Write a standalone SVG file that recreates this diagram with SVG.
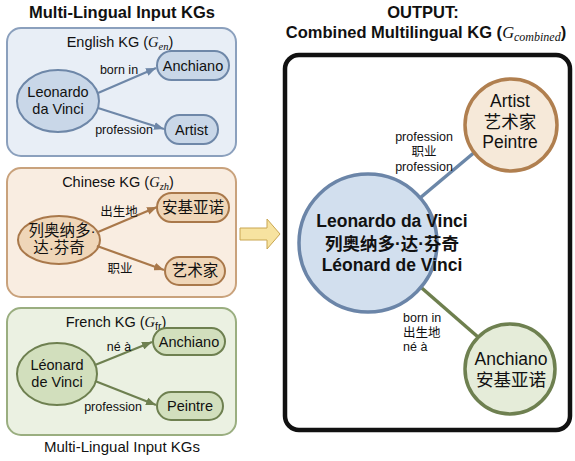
<svg xmlns="http://www.w3.org/2000/svg" width="575" height="461" viewBox="0 0 575 461">
<style>
text{font-family:"Liberation Sans",Arial,"Noto Sans CJK SC",sans-serif;fill:#111}
.t{font-size:16.5px;font-weight:bold;text-anchor:middle}
.h{font-size:14.5px;text-anchor:middle}
.m{font-family:"Liberation Serif","Noto Sans CJK SC",serif;font-style:italic}
.n{font-size:14.5px;text-anchor:middle}
.z{font-size:15.5px;text-anchor:middle}
.e{font-size:12.5px;text-anchor:middle}
.r{font-size:12.5px}
.big{font-size:17.5px;font-weight:bold;text-anchor:middle}
.c{font-size:17.5px;text-anchor:middle}
.enb{fill:#e8eef6;stroke:#8ba0bd;stroke-width:2}
.zhb{fill:#f9ede1;stroke:#c9a27c;stroke-width:2}
.frb{fill:#ebf1e2;stroke:#9aae80;stroke-width:2}
.enn{fill:#c9d7e8;stroke:#6e87a8;stroke-width:2}
.zhn{fill:#efd6b8;stroke:#a9784a;stroke-width:2}
.frn{fill:#d2dfbd;stroke:#6e8050;stroke-width:2}
.enl{stroke:#6e87a8;stroke-width:2.2;fill:none}
.zhl{stroke:#a9784a;stroke-width:2.2;fill:none}
.frl{stroke:#6e8050;stroke-width:2.2;fill:none}
</style>
<defs>
<marker id="ae" viewBox="0 0 10 8" refX="10" refY="4" markerWidth="10" markerHeight="8" markerUnits="userSpaceOnUse" orient="auto"><path d="M0,0L10,4L0,8z" fill="#6e87a8"/></marker>
<marker id="az" viewBox="0 0 10 8" refX="10" refY="4" markerWidth="10" markerHeight="8" markerUnits="userSpaceOnUse" orient="auto"><path d="M0,0L10,4L0,8z" fill="#a9784a"/></marker>
<marker id="af" viewBox="0 0 10 8" refX="10" refY="4" markerWidth="10" markerHeight="8" markerUnits="userSpaceOnUse" orient="auto"><path d="M0,0L10,4L0,8z" fill="#6e8050"/></marker>
</defs>

<text class="t" x="122" y="18">Multi-Lingual Input KGs</text>
<text class="t" x="423" y="18">OUTPUT:</text>
<text class="t" x="426" y="38">Combined Multilingual KG (<tspan class="m" font-weight="normal">G</tspan><tspan class="m" font-weight="normal" font-size="12px" dy="3">combined</tspan><tspan dy="-3">)</tspan></text>

<g id="english-kg">
<rect class="enb" x="7" y="28" width="229" height="128" rx="14"/>
<text class="h" x="120" y="47">English KG (<tspan class="m">G</tspan><tspan class="m" font-size="10.5px" dy="3">en</tspan><tspan dy="-3">)</tspan></text>
</g>
<g id="en-leonardo"><ellipse class="enn" cx="58" cy="101" rx="41" ry="31"/><text class="n" x="58" y="97">Leonardo</text><text class="n" x="58" y="114">da Vinci</text></g>
<g id="en-anchiano"><rect class="enn" x="157" y="51" width="72" height="29" rx="14.5"/><text class="n" x="193" y="70.5">Anchiano</text></g>
<g id="en-artist"><rect class="enn" x="165" y="115" width="53" height="29" rx="14.5"/><text class="n" x="191.5" y="134.5">Artist</text></g>

<g id="chinese-kg">
<rect class="zhb" x="7" y="168" width="229" height="129" rx="14"/>
<text class="h" x="118" y="187">Chinese KG (<tspan class="m">G</tspan><tspan class="m" font-size="10.5px" dy="3">zh</tspan><tspan dy="-3">)</tspan></text>
</g>
<g id="zh-leonardo"><ellipse class="zhn" cx="59" cy="240" rx="41" ry="24"/><text class="z" x="62" y="236">列奥纳多·</text><text class="z" x="59" y="253">达·芬奇</text></g>
<g id="zh-anchiano"><rect class="zhn" x="157" y="193" width="72" height="29" rx="14.5"/><text class="z" x="193" y="213">安基亚诺</text></g>
<g id="zh-artist"><rect class="zhn" x="165" y="257" width="60" height="28" rx="14"/><text class="z" x="195" y="276">艺术家</text></g>

<g id="french-kg">
<rect class="frb" x="7" y="308" width="229" height="127" rx="14"/>
<text class="h" x="116" y="327">French KG (<tspan class="m">G</tspan><tspan font-size="10.5px" dy="3">fr</tspan><tspan dy="-3">)</tspan></text>
</g>
<g id="fr-leonard"><ellipse class="frn" cx="57" cy="374" rx="40" ry="31"/><text class="n" x="57" y="370">Léonard</text><text class="n" x="57" y="387">de Vinci</text></g>
<g id="fr-anchiano"><rect class="frn" x="153" y="328" width="72" height="27" rx="13.5"/><text class="n" x="189" y="347">Anchiano</text></g>
<g id="fr-peintre"><rect class="frn" x="157" y="392" width="66" height="28" rx="14"/><text class="n" x="190" y="411">Peintre</text></g>

<text x="122" y="452" style="font-size:15px;text-anchor:middle">Multi-Lingual Input KGs</text>

<g id="transfer-arrow"><path d="M240,228H267V219L280,234L267,249V240H240Z" fill="#f7e3a0" stroke="#c9a650" stroke-width="1"/></g>

<g id="output-kg"><rect x="285" y="55" width="285" height="375" rx="14" fill="#fff" stroke="#111" stroke-width="4.5"/></g>

<g id="connectors">
<line class="enl" x1="98" y1="93" x2="156" y2="68" marker-end="url(#ae)"/>
<line class="enl" x1="98" y1="108" x2="164" y2="129" marker-end="url(#ae)"/>
<line class="zhl" x1="98" y1="232" x2="157" y2="207" marker-end="url(#az)"/>
<line class="zhl" x1="97" y1="246" x2="164" y2="270" marker-end="url(#az)"/>
<line class="frl" x1="95" y1="365" x2="152" y2="342" marker-end="url(#af)"/>
<line class="frl" x1="95" y1="381" x2="156" y2="405" marker-end="url(#af)"/>
<line stroke="#6b87a8" stroke-width="3.5" x1="420" y1="198" x2="476" y2="151"/>
<line stroke="#6e7f4e" stroke-width="3.5" x1="416" y1="283" x2="478" y2="337"/>
<text class="e" x="119" y="74">born in</text>
<text class="e" x="124" y="134">profession</text>
<text class="e" x="119" y="216">出生地</text>
<text class="e" x="120" y="273">职业</text>
<text class="e" x="119" y="351">né à</text>
<text class="e" x="113" y="411">profession</text>
<text class="e" x="424" y="141">profession</text>
<text class="e" x="424" y="156">职业</text>
<text class="e" x="424" y="171">profession</text>
<text class="r" x="403" y="322">born in</text>
<text class="r" x="403" y="337">出生地</text>
<text class="r" x="403" y="351">né à</text>
</g>

<g id="out-leonardo"><circle cx="368" cy="243" r="69" fill="#d2dfee" stroke="#6b85a8" stroke-width="3.5"/>
<text class="big" x="392" y="227">Leonardo da Vinci</text>
<text class="big" x="392" y="250">列奥纳多·达·芬奇</text>
<text class="big" x="392" y="271">Léonard de Vinci</text></g>
<g id="out-artist"><circle cx="511" cy="125" r="46" fill="#f6e9d9" stroke="#b07f4f" stroke-width="3.5"/>
<text class="c" x="510" y="107">Artist</text><text class="c" x="510" y="128">艺术家</text><text class="c" x="510" y="148">Peintre</text></g>
<g id="out-anchiano"><circle cx="510" cy="369" r="45" fill="#e5ecd9" stroke="#6e8050" stroke-width="3.5"/>
<text class="c" x="511" y="365">Anchiano</text><text class="c" x="511" y="386">安基亚诺</text></g>
</svg>
